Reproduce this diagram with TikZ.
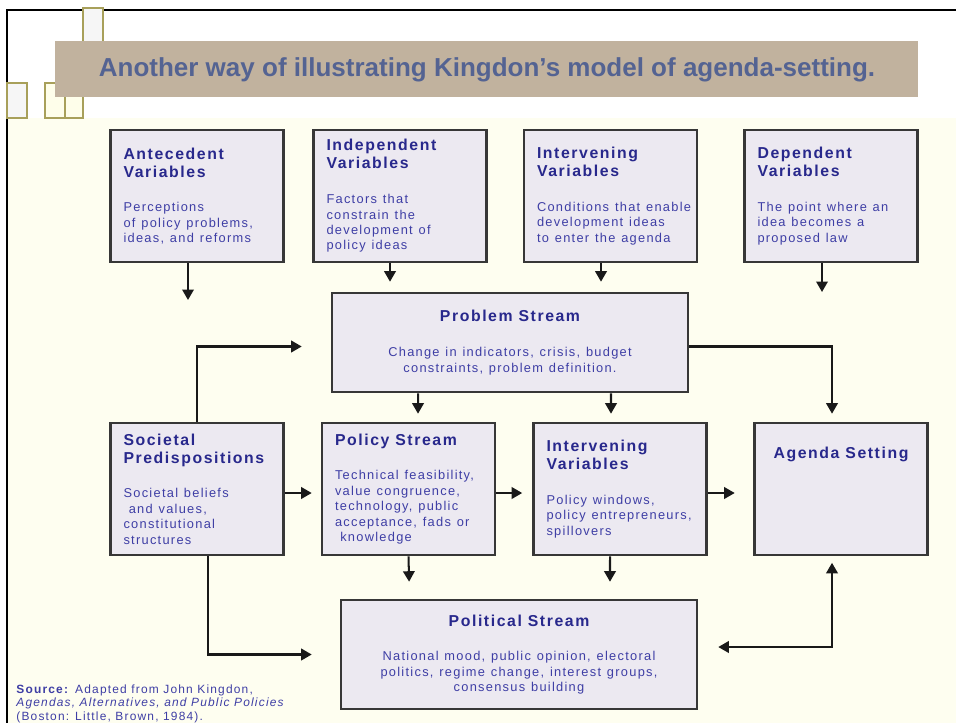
\documentclass[tikz,border=0pt]{standalone}
\usepackage{fontspec}
\setmainfont{Liberation Sans}
\newfontfamily\boxfont[LetterSpace=10]{Liberation Sans}
\usetikzlibrary{arrows.meta}

\definecolor{boxfill}{RGB}{236,233,241}
\definecolor{boxline}{RGB}{55,55,55}
\definecolor{ttlblue}{RGB}{40,40,140}
\definecolor{txtblue}{RGB}{62,62,165}
\definecolor{paper}{RGB}{254,254,240}
\definecolor{banner}{RGB}{193,178,158}
\definecolor{headblue}{RGB}{84,99,146}
\definecolor{deco}{RGB}{168,160,90}
\definecolor{decogray}{RGB}{246,246,246}
\definecolor{decoyel}{RGB}{254,254,234}

% title and body of one box
\newcommand{\boxtext}[2]{{\color{ttlblue}\fontsize{9}{10.2}\selectfont\bfseries #1\par}%
  \vspace{11pt}{\color{txtblue}\fontsize{7.3}{8.8}\selectfont #2\par}}

\begin{document}
\begin{tikzpicture}[x=0.02cm,y=-0.02cm,>={Triangle[length=0.21cm,width=0.23cm]},
  box/.style={draw=boxline,fill=boxfill,line width=1.5pt,inner xsep=0.26cm,
    text width=2.94cm,minimum height=2.64cm,align=left,font=\boxfont},
  wide/.style={box,text width=6.6cm,align=center},
  arr/.style={->,line width=1.15pt,draw=black!90}]
  \useasboundingbox (0,0) rectangle (956,723);
  \fill[white] (0,0) rectangle (956,723);
  \fill[paper] (7,118) rectangle (956,723);
  \draw[line width=0.05cm] (956,10) -- (7,10) -- (7,723);

  % corner squares
  \draw[deco,fill=decogray,line width=0.03cm] (83,8) rectangle (103,60);
  \draw[deco,fill=decogray,line width=0.03cm] (7,83) rectangle (27,118);
  \draw[deco,fill=decoyel,line width=0.03cm] (45,83) rectangle (65,118);
  \draw[deco,fill=decoyel,line width=0.03cm] (65,83) rectangle (83,118);

  \fill[banner] (55,41) rectangle (918,97);
  \node[font=\fontsize{14.8}{17}\selectfont\bfseries,text=headblue] (title) at (487,70)
    {Another way of illustrating Kingdon’s model of agenda-setting.};

  \node[box] (ante) at (197,196) {\boxtext{Antecedent\\Variables}{Perceptions\\of policy problems,\\ideas, and reforms}};
  \node[box] (indep) at (400,196) {\boxtext{Independent\\Variables}{Factors that\\constrain the\\development of\\policy ideas}};
  \node[box] (interA) at (610.5,196) {\boxtext{Intervening\\Variables}{\mbox{Conditions that enable}\\development ideas\\to enter the agenda}};
  \node[box] (dep) at (831,196) {\boxtext{Dependent\\Variables}{The point where an\\idea becomes a\\proposed law}};
  \node[wide,minimum height=1.98cm] (problem) at (510,342.5) {\boxtext{Problem Stream}{Change in indicators, crisis, budget\\constraints, problem definition.}};
  \node[box] (soc) at (197,489) {\boxtext{Societal\\Predispositions}{Societal beliefs\\\hspace*{3pt}and values,\\constitutional\\structures}};
  \node[box] (policy) at (408.5,489) {\boxtext{Policy Stream}{\mbox{Technical feasibility,}\\value congruence,\\technology, public\\acceptance, fads or\\\hspace*{3pt}knowledge}};
  \node[box] (interB) at (620,489) {\boxtext{Intervening\\Variables}{Policy windows,\\\mbox{policy entrepreneurs,}\\spillovers}};
  \node[box,label={[anchor=north,yshift=-0.38cm,font=\boxfont\fontsize{9}{10.2}\selectfont\bfseries,text=ttlblue]north:Agenda Setting}] (agenda) at (841,489) {};
  \node[wide,minimum height=2.18cm] (political) at (519,654.5) {\boxtext{Political Stream}{National mood, public opinion, electoral\\politics, regime change, interest groups,\\consensus building}};

  \coordinate (anteend) at (188,300);
  \coordinate (depend) at (822,292);
  \draw[arr] (ante.south -| anteend) -- (anteend);
  \draw[arr,shorten >=0.2cm] ([xshift=-0.2cm]indep.south) -- ([xshift=-0.2cm]indep.south |- problem.north);
  \draw[arr,shorten >=0.2cm] ([xshift=-0.19cm]interA.south) -- ([xshift=-0.19cm]interA.south |- problem.north);
  \draw[arr] (dep.south -| depend) -- (depend);
  \draw[arr,shorten >=0.58cm] (soc.north) |- ([yshift=-0.08cm]problem.west);
  \draw[arr,shorten >=0.16cm] ([yshift=-0.08cm]problem.east) -| ([xshift=-0.18cm]agenda.north);
  \draw[arr,shorten >=0.16cm] ([xshift=-1.84cm]problem.south) -- ([xshift=0.19cm]policy.north);
  \draw[arr,shorten >=0.16cm] ([xshift=2.02cm]problem.south) -- ([xshift=-0.18cm]interB.north);
  \draw[arr,shorten >=0.18cm] ([yshift=-0.08cm]soc.east) -- ([yshift=-0.08cm]policy.west);
  \draw[arr,shorten >=0.2cm] ([yshift=-0.08cm]policy.east) -- ([yshift=-0.08cm]interB.west);
  \draw[arr,shorten >=0.37cm] ([yshift=-0.08cm]interB.east) -- ([yshift=-0.08cm]agenda.west);
  \draw[arr,shorten >=0.34cm] (policy.south) -- ([xshift=-2.19cm]political.north);
  \draw[arr,shorten >=0.34cm] ([xshift=-0.2cm]interB.south) -- ([xshift=1.82cm]political.north);
  \draw[arr,shorten >=0.56cm] ([xshift=0.22cm]soc.south) |- (political.west);
  \draw[arr,<->,shorten <=0.13cm,shorten >=0.4cm] ([xshift=-0.18cm]agenda.south) |- ([yshift=0.15cm]political.east);

  \node[font=\boxfont\fontsize{6.8}{7.9}\selectfont,text=txtblue,align=left,anchor=north west,inner sep=0pt] (source) at (16,684)
    {\textbf{Source:} Adapted from John Kingdon,\\\textit{Agendas, Alternatives, and Public Policies}\\(Boston: Little, Brown, 1984).};
\end{tikzpicture}
\end{document}
